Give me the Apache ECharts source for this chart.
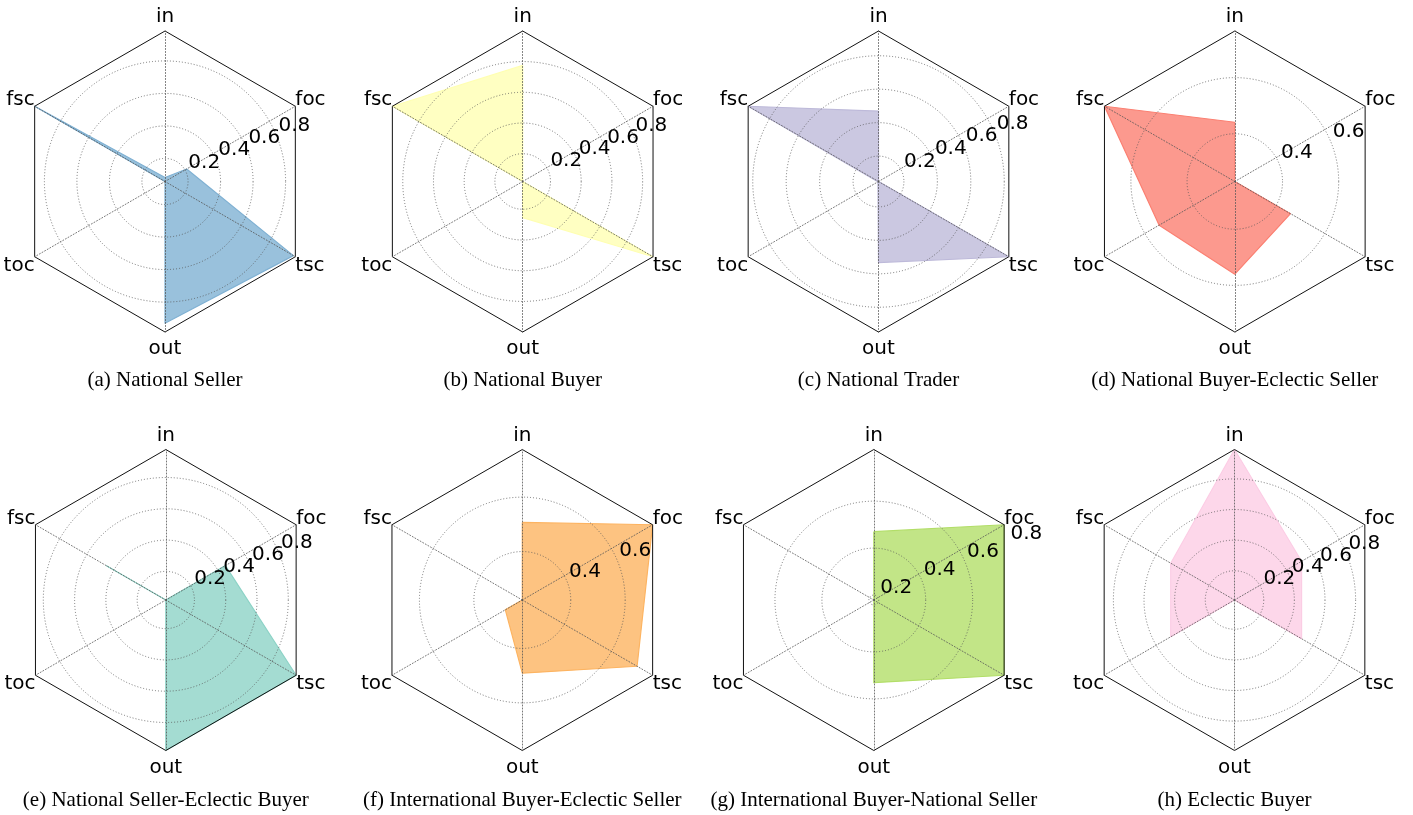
<!DOCTYPE html>
<html>
<head>
<meta charset="utf-8">
<script src="https://cdn.jsdelivr.net/npm/echarts@6/dist/echarts.min.js"></script>
<style>
html,body{margin:0;padding:0;background:#ffffff;}
#chart{width:1413px;height:815px;}
</style>
</head>
<body>
<div id="chart"></div>
<script>
// ---------------- data ----------------
const categories = ['in', 'foc', 'tsc', 'out', 'toc', 'fsc']; // clockwise from top

const captions = [
  '(a) National Seller',
  '(b) National Buyer',
  '(c) National Trader',
  '(d) National Buyer-Eclectic Seller',
  '(e) National Seller-Eclectic Buyer',
  '(f) International Buyer-Eclectic Seller',
  '(g) International Buyer-National Seller',
  '(h) Eclectic Buyer'
];

// values in category order: in, foc, tsc, out, toc, fsc
const nationalSeller              = [0.083, 0.212, 0.970, 0.930, 0.058, 0.984];
const nationalBuyer               = [0.775, 0.019, 0.999, 0.254, 0.019, 0.999];
const nationalTrader              = [0.469, 0.048, 0.948, 0.533, 0.052, 0.948];
const nationalBuyerEclecticSeller = [0.441, 0.230, 0.459, 0.560, 0.541, 0.766];
const nationalSellerEclecticBuyer = [0.017, 0.457, 0.979, 0.979, 0.017, 0.455];
const intlBuyerEclecticSeller     = [0.507, 0.775, 0.709, 0.491, 0.294, 0.222];
const intlBuyerNationalSeller     = [0.470, 0.820, 0.820, 0.531, 0.179, 0.179];
const eclecticBuyer               = [0.992, 0.515, 0.515, 0.009, 0.490, 0.490];

// radial axis limits of each panel (centre value, outer hexagon value)
const radialMin = [0.058, 0.019, 0.048, 0.230, 0.017, 0.222, 0.179, 0.009];
const radialMax = [0.984, 0.999, 0.948, 0.766, 0.979, 0.775, 0.820, 0.992];

const tickStep = 0.2;

// ---------------- layout / style ----------------
const seriesValues = [nationalSeller, nationalBuyer, nationalTrader, nationalBuyerEclecticSeller,
  nationalSellerEclecticBuyer, intlBuyerEclecticSeller, intlBuyerNationalSeller, eclecticBuyer];
const colors = ['#80b1d3', '#ffffb3', '#bebada', '#fb8072', '#8dd3c7', '#fdb462', '#b3de69', '#fccde5'];
const panelX = [165, 522.7, 878.5, 1234.8, 165.8, 522.3, 873.8, 1234.5];
const panelY = [181.5, 181.5, 181.5, 181.5, 600, 600, 600, 600];
const captionTop = [370, 370, 370, 370, 790, 790, 790, 790];
const R = 150.5;
const gridColor = '#555555';

// ECharts radar goes counter-clockwise: in, fsc, toc, out, tsc, foc
const radarOrder = [0, 5, 4, 3, 2, 1];
const namePos = { 'in': 'top', 'foc': 'up', 'fsc': 'up', 'tsc': 'down', 'toc': 'down', 'out': 'bot' };
const nameFont = { fontSize: 20, fontFamily: 'DejaVu Sans', color: '#000' };

function tickList(min, max) {
  const out = [];
  const eps = 1e-9;
  const k0 = Math.ceil(min / tickStep - eps), k1 = Math.floor(max / tickStep + eps);
  if (Math.abs(k0 * tickStep - min) > 1e-6) out.push({ v: min, edge: true });
  for (let k = k0; k <= k1; k++) out.push({ v: k * tickStep, edge: false });
  if (Math.abs(k1 * tickStep - max) > 1e-6) out.push({ v: max, edge: true });
  return out;
}

const radar = [], polar = [], angleAxis = [], radiusAxis = [], series = [], title = [];

seriesValues.forEach(function (vals, i) {
  const cx = panelX[i], cy = panelY[i];
  const mn = radialMin[i], mx = radialMax[i];
  radar.push({
    center: [cx, cy], radius: R, startAngle: 90, shape: 'polygon', splitNumber: 1, z: 3,
    axisNameGap: 0,
    indicator: radarOrder.map(function (j) { return { name: categories[j], min: mn, max: mx }; }),
    axisName: {
      show: true,
      fontSize: 20, fontFamily: 'DejaVu Sans', color: '#000',
      formatter: function (name) { return '{' + namePos[name] + '|' + name + '}'; },
      rich: {
        top: Object.assign({ padding: [0, 0, 4, 0] }, nameFont),
        bot: Object.assign({ padding: [7, 0, 0, 0] }, nameFont),
        up: Object.assign({ padding: [0, 0, 12, 0] }, nameFont),
        down: Object.assign({ padding: [18, 0, 0, 0] }, nameFont)
      }
    },
    axisLine: { show: true, lineStyle: { color: gridColor, width: 0.8, type: [1, 2] } },
    axisTick: { show: false },
    axisLabel: { show: false },
    splitLine: { show: true, lineStyle: { color: '#111', width: 1, type: 'solid' } },
    splitArea: { show: false }
  });

  const ticks = tickList(mn, mx);
  const inscribed = R * Math.cos(Math.PI / 6);
  const lineColors = ticks.map(function (t) {
    const r = (t.v - mn) / (mx - mn) * R;
    return (t.edge || r > inscribed * 1.02) ? 'rgba(0,0,0,0)' : gridColor;
  });

  polar.push({ center: [cx, cy], radius: R, z: 3 });
  angleAxis.push({ polarIndex: i, type: 'value', min: 0, max: 360, startAngle: 22.5, show: false });
  radiusAxis.push({
    polarIndex: i, type: 'value', min: mn, max: mx, z: 3,
    splitNumber: Math.max(1, Math.round((mx - mn) / tickStep)),
    axisLine: { show: false }, axisTick: { show: false },
    axisLabel: {
      show: true, margin: 0, align: 'left', verticalAlign: 'bottom',
      showMinLabel: false, showMaxLabel: false,
      fontSize: 20, fontFamily: 'DejaVu Sans', color: '#000', padding: [0, 0, 0, 2]
    },
    splitLine: { show: true, lineStyle: { color: lineColors, width: 0.8, type: [1, 2] } }
  });

  series.push({
    type: 'radar', radarIndex: i, z: 1, symbol: 'none', silent: true,
    lineStyle: { color: colors[i], width: 1.2 },
    areaStyle: { color: colors[i], opacity: 0.8 },
    itemStyle: { color: colors[i] },
    data: [{ value: radarOrder.map(function (j) { return vals[j]; }), name: captions[i] }]
  });

  title.push({
    text: captions[i], left: cx, top: captionTop[i], textAlign: 'center', padding: 0,
    textStyle: { fontFamily: 'Liberation Serif', fontSize: 21, fontWeight: 'normal', color: '#000' }
  });
});

const chart = echarts.init(document.getElementById('chart'), null, { renderer: 'canvas' });
chart.setOption({
  backgroundColor: '#ffffff',
  animation: false,
  title: title,
  radar: radar,
  polar: polar,
  angleAxis: angleAxis,
  radiusAxis: radiusAxis,
  series: series
});
</script>
</body>
</html>
